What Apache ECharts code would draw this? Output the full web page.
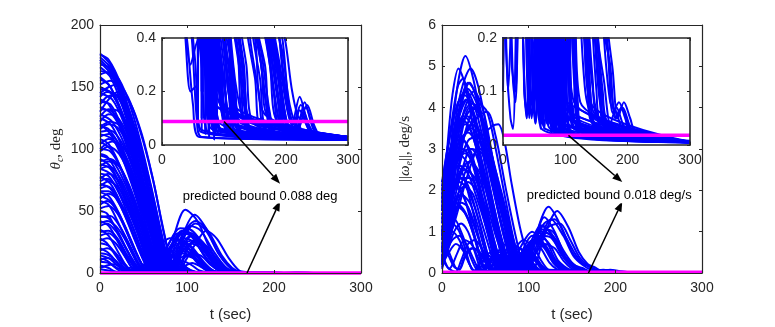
<!DOCTYPE html>
<html>
<head>
<meta charset="utf-8">
<script src="https://cdn.jsdelivr.net/npm/echarts@6/dist/echarts.min.js"></script>
<style>
  html, body { margin: 0; padding: 0; background: #fff; }
  #chart { width: 775px; height: 327px; }
</style>
</head>
<body>
<div id="chart"></div>
<script>
// axis ticks
const tTicks = [0, 100, 200, 300];
const thetaTicks = [0, 50, 100, 150, 200];
const thetaInsetTicks = [0, 0.2, 0.4];
const omegaTicks = [0, 1, 2, 3, 4, 5, 6];
const omegaInsetTicks = [0, 0.1, 0.2];

// predicted bounds
const thetaBound = 0.088;
const omegaBound = 0.018;
const thetaNote = 'predicted bound 0.088 deg';
const omegaNote = 'predicted bound 0.018 deg/s';

// theta_c runs, [t, deg]
const thetaRuns = [
  [[0,177],[12,168],[25,148],[40,112],[55,70],[68,35],[80,10],[90,2],[100,0.8],[115,0.3],[130,0.1],[145,0.04],[300,0.03]],
  [[0,172],[15,160],[30,132],[45,95],[60,55],[72,22],[82,5],[95,1],[108,0.4],[120,0.1],[135,0.03],[300,0.03]],
  [[0,168],[10,166],[22,150],[38,118],[52,80],[65,42],[76,12],[86,0.05],[96,22],[106,30],[118,20],[132,6],[146,1],[160,0.6],[175,0.3],[188,0.1],[200,0.04],[300,0.03]],
  [[0,160],[10,162],[22,156],[36,132],[50,96],[64,52],[76,16],[86,2],[96,0.6],[108,0.2],[120,0.05],[300,0.025]],
  [[0,152],[12,155],[25,146],[40,118],[55,78],[68,38],[78,8],[85,0.1],[95,30],[109,47],[122,36],[136,16],[150,4],[160,0.8],[175,0.5],[190,0.3],[203,0.12],[215,0.05],[226,0.12],[238,0.05],[250,0.025],[300,0.025]],
  [[0,145],[10,150],[20,152],[32,142],[46,115],[60,78],[72,38],[82,8],[90,0.2],[100,20],[112,28],[124,20],[136,8],[148,2],[160,0.5],[180,0.4],[196,0.15],[210,0.04],[300,0.03]],
  [[0,138],[12,136],[25,118],[40,86],[54,50],[66,18],[75,0.05],[86,32],[98,51],[112,42],[126,20],[140,5],[153,0.8],[168,0.6],[184,0.5],[198,0.2],[210,0.08],[222,0.18],[234,0.09],[246,0.04],[300,0.03]],
  [[0,130],[10,140],[20,146],[34,138],[48,112],[62,72],[74,30],[84,4],[94,1],[106,0.5],[118,0.2],[130,0.05],[300,0.03]],
  [[0,128],[14,122],[28,104],[42,76],[56,42],[68,12],[76,0.03],[88,26],[100,36],[114,28],[128,12],[142,3],[155,0.6],[170,0.4],[185,0.3],[198,0.1],[212,0.04],[222,0.13],[236,0.06],[250,0.03],[300,0.03]],
  [[0,118],[10,116],[24,100],[38,72],[52,40],[64,12],[72,0.2],[84,15],[95,22],[108,16],[120,6],[132,1],[145,0.5],[160,0.3],[172,0.1],[185,0.03],[300,0.025]],
  [[0,114],[12,115],[26,104],[40,80],[54,48],[66,18],[76,2],[86,0.8],[98,0.5],[112,0.2],[126,0.05],[300,0.03]],
  [[0,108],[10,104],[22,88],[36,62],[50,32],[62,8],[70,0.05],[82,22],[94,34],[106,30],[120,14],[134,3],[147,0.6],[162,0.5],[178,0.3],[192,0.1],[205,0.05],[216,0.1],[228,0.05],[300,0.03]],
  [[0,100],[12,98],[26,82],[40,56],[54,28],[64,8],[72,1],[82,0.6],[94,0.35],[108,0.1],[120,0.03],[300,0.03]],
  [[0,95],[15,90],[30,70],[45,42],[58,18],[68,2],[74,0.1],[85,18],[97,28],[110,24],[124,10],[138,2],[150,0.6],[165,0.45],[180,0.35],[194,0.15],[208,0.05],[300,0.03]],
  [[0,88],[12,84],[26,66],[40,42],[52,20],[62,4],[70,0.8],[80,0.5],[92,0.3],[105,0.06],[300,0.03]],
  [[0,80],[10,78],[22,64],[36,40],[48,18],[58,3],[64,0.05],[76,14],[90,24],[104,22],[118,10],[130,2],[142,0.6],[158,0.5],[174,0.3],[188,0.08],[300,0.03]],
  [[0,72],[12,68],[25,52],[38,30],[50,10],[58,0.08],[68,8],[80,10],[92,5],[102,1],[112,0.5],[124,0.3],[136,0.1],[150,0.03],[300,0.03]],
  [[0,65],[10,62],[22,48],[34,28],[46,10],[54,0.6],[64,10],[76,16],[88,12],[100,4],[110,0.8],[122,0.45],[134,0.2],[146,0.05],[300,0.03]],
  [[0,58],[10,55],[20,42],[32,24],[44,8],[52,1],[60,0.6],[70,0.45],[80,0.2],[90,0.05],[300,0.03]],
  [[0,50],[8,48],[18,36],[30,20],[40,6],[48,1.2],[58,12],[70,18],[82,14],[94,5],[104,1],[116,0.5],[130,0.3],[142,0.1],[300,0.03]],
  [[0,42],[10,38],[20,26],[30,12],[38,3],[44,2],[54,8],[64,12],[76,8],[86,2],[96,0.6],[108,0.4],[118,0.1],[300,0.03]],
  [[0,35],[10,30],[20,18],[30,6],[38,1.5],[48,6],[58,9],[70,6],[80,1],[90,0.5],[100,0.3],[112,0.08],[300,0.03]],
  [[0,28],[8,24],[18,14],[28,4],[34,2],[44,5],[56,7],[66,4],[76,0.8],[86,0.4],[100,0.15],[300,0.03]],
  [[0,20],[10,16],[20,8],[28,1],[36,0.5],[46,0.3],[60,0.4],[72,0.35],[85,0.15],[300,0.03]],
  [[0,12],[8,10],[18,4],[24,1.5],[34,4],[44,5],[54,2],[62,0.5],[72,0.3],[85,0.2],[100,0.05],[300,0.03]],
  [[0,6],[10,4],[18,1],[26,0.6],[36,0.45],[46,0.2],[55,0.22],[62,0.05],[300,0.02]],
  [[0,3],[10,2],[20,0.8],[30,0.5],[40,0.4],[50,0.15],[60,0.03],[300,0.02]],
  [[0,158],[12,150],[26,126],[40,94],[54,58],[66,26],[76,6],[84,0.3],[94,24],[104,38],[116,34],[130,18],[144,5],[156,1],[170,0.6],[186,0.45],[200,0.2],[212,0.08],[224,0.15],[238,0.07],[252,0.03],[300,0.03]],
  [[0,134],[14,128],[28,110],[42,82],[56,48],[68,16],[76,2],[86,0.8],[100,0.5],[114,0.3],[128,0.1],[300,0.03]],
  [[0,122],[10,128],[22,124],[36,104],[50,72],[64,36],[76,8],[84,0.02],[96,28],[110,40],[122,34],[136,16],[150,4],[162,0.8],[178,0.5],[194,0.35],[206,0.15],[220,0.06],[232,0.14],[244,0.06],[256,0.03],[300,0.03]],
  [[0,110],[10,112],[22,104],[36,84],[50,54],[62,24],[72,4],[80,0.15],[92,18],[104,26],[118,22],[132,8],[145,1.5],[158,0.6],[172,0.4],[186,0.2],[200,0.05],[300,0.03]],
  [[0,90],[12,92],[24,84],[38,62],[52,34],[62,12],[70,0.04],[82,20],[96,34],[110,30],[124,15],[138,3],[150,0.7],[166,0.5],[182,0.35],[196,0.12],[210,0.05],[300,0.03]],
  [[0,76],[10,80],[22,74],[36,54],[50,28],[60,8],[66,0.3],[78,18],[90,30],[102,32],[116,22],[132,8],[146,1.5],[158,0.6],[172,0.4],[188,0.25],[202,0.08],[300,0.03]],
  [[0,45],[12,46],[24,36],[36,20],[46,6],[54,0.8],[66,18],[80,28],[94,26],[108,14],[120,4],[132,0.8],[146,0.5],[160,0.3],[172,0.1],[300,0.03]],
  [[0,100],[14,106],[28,100],[44,78],[58,46],[70,16],[80,0.1],[94,30],[110,42],[124,34],[140,14],[152,4],[162,0.9],[178,0.55],[194,0.4],[206,0.12],[218,0.06],[230,0.16],[242,0.08],[255,0.03],[300,0.03]],
  [[0,60],[10,64],[22,58],[36,40],[48,18],[58,2],[64,0.2],[78,22],[92,36],[106,34],[120,20],[134,6],[146,1],[160,0.6],[176,0.4],[190,0.15],[204,0.04],[300,0.03]],
  [[0,145],[14,140],[28,120],[42,88],[56,50],[68,18],[78,2],[88,0.05],[100,12],[112,26],[122,34],[134,28],[148,12],[160,2],[170,0.8],[184,0.5],[198,0.4],[210,0.2],[222,0.1],[234,0.15],[246,0.07],[258,0.03],[300,0.03]],
  [[0,170],[15,158],[30,128],[45,88],[58,50],[70,18],[80,3],[88,0.6],[98,0.4],[110,0.15],[122,0.04],[300,0.03]],
  [[0,163],[12,160],[26,140],[42,102],[56,62],[68,26],[78,4],[86,0.3],[96,0.05],[300,0.03]],
  [[0,148],[12,146],[26,128],[40,98],[54,60],[66,24],[74,4],[80,0.5],[90,0.4],[102,0.2],[114,0.05],[300,0.03]],
  [[0,142],[8,146],[18,144],[30,128],[44,98],[58,60],[70,24],[80,2],[86,0.1],[96,5],[106,8],[116,5],[126,1],[136,0.45],[150,0.25],[162,0.05],[300,0.03]],
  [[0,125],[12,120],[24,104],[38,76],[50,46],[60,20],[68,3],[74,0.2],[84,10],[96,16],[108,12],[120,4],[130,0.7],[142,0.4],[156,0.2],[170,0.05],[300,0.03]],
  [[0,116],[10,120],[22,116],[36,96],[50,64],[62,32],[72,8],[80,0.5],[90,0.45],[104,0.4],[118,0.2],[130,0.05],[300,0.03]],
  [[0,104],[10,108],[22,102],[36,82],[50,52],[62,22],[70,4],[76,0.1],[86,12],[98,20],[110,16],[122,6],[134,1],[146,0.5],[160,0.35],[174,0.12],[186,0.04],[300,0.03]],
  [[0,96],[8,94],[20,80],[34,56],[46,32],[56,12],[64,1.5],[72,0.5],[84,0.42],[96,0.2],[108,0.05],[300,0.03]],
  [[0,84],[10,86],[22,78],[34,60],[46,36],[56,14],[64,2],[70,0.3],[80,6],[92,10],[104,7],[114,2],[124,0.5],[136,0.3],[148,0.08],[300,0.03]],
  [[0,68],[8,70],[18,64],[30,46],[42,24],[52,8],[60,0.5],[70,6],[82,9],[94,6],[104,1.5],[114,0.5],[126,0.3],[138,0.06],[300,0.03]],
  [[0,55],[8,58],[18,52],[30,36],[40,18],[50,5],[56,1.5],[66,4],[78,6],[88,3],[98,0.7],[108,0.4],[120,0.12],[300,0.03]],
  [[0,38],[8,40],[18,34],[28,22],[38,10],[46,2],[52,0.8],[62,0.5],[72,0.4],[84,0.2],[96,0.05],[300,0.03]],
  [[0,30],[10,32],[20,26],[30,14],[40,4],[46,1.5],[56,3],[66,4],[76,2],[86,0.5],[96,0.3],[108,0.06],[300,0.03]],
  [[0,24],[10,22],[20,14],[30,6],[38,1],[46,0.6],[56,0.45],[68,0.3],[80,0.06],[300,0.03]],
  [[0,16],[8,15],[18,10],[26,4],[34,1],[42,0.8],[52,1.2],[60,0.8],[70,0.3],[80,0.08],[300,0.02]],
  [[0,9],[10,8],[20,4],[30,1.5],[40,0.5],[48,0.4],[56,0.1],[64,0.03],[300,0.02]],
  [[0,132],[14,130],[28,114],[42,86],[56,52],[68,20],[76,4],[82,0.2],[92,14],[104,24],[116,20],[130,8],[142,2],[154,0.6],[168,0.45],[182,0.25],[196,0.08],[210,0.03],[300,0.03]],
  [[0,112],[14,108],[28,92],[42,66],[56,36],[66,12],[74,1],[80,0.08],[92,20],[104,30],[116,26],[130,12],[144,3],[156,0.7],[170,0.45],[186,0.3],[200,0.1],[214,0.03],[300,0.03]],
  [[0,70],[10,74],[22,68],[36,48],[48,24],[58,6],[64,0.1],[76,16],[88,26],[100,24],[114,12],[126,3],[138,0.7],[152,0.45],[166,0.3],[180,0.08],[300,0.03]],
  [[0,176],[10,172],[24,152],[38,120],[52,82],[64,46],[76,16],[86,3],[94,0.8],[104,0.5],[118,0.42],[132,0.2],[146,0.05],[300,0.03]],
  [[0,150],[14,144],[28,124],[42,94],[56,58],[68,24],[76,4],[82,0.2],[92,8],[104,16],[116,14],[128,6],[140,1.2],[152,0.5],[166,0.42],[180,0.2],[194,0.06],[300,0.03]],
  [[0,174],[14,164],[28,140],[42,106],[56,68],[68,32],[78,8],[86,1],[96,0.45],[110,0.2],[124,0.04],[300,0.03]],
  [[0,166],[12,158],[26,134],[40,100],[54,62],[66,28],[76,6],[84,0.5],[94,0.3],[106,0.06],[300,0.03]],
  [[0,156],[10,152],[24,132],[38,100],[52,64],[64,30],[74,6],[80,0.4],[90,0.35],[102,0.1],[300,0.03]],
  [[0,140],[10,136],[24,116],[38,86],[52,52],[64,22],[72,4],[78,0.6],[88,0.42],[100,0.15],[112,0.04],[300,0.03]],
  [[0,136],[8,142],[18,144],[30,134],[44,108],[58,72],[70,34],[80,6],[88,0.5],[98,0.42],[112,0.25],[126,0.05],[300,0.03]],
  [[0,126],[10,132],[22,130],[36,112],[50,80],[62,46],[72,16],[80,2],[88,0.5],[100,0.42],[114,0.15],[300,0.03]],
  [[0,120],[12,112],[26,92],[40,64],[52,36],[62,12],[70,1],[78,0.5],[88,0.4],[100,0.1],[300,0.03]],
  [[0,106],[12,100],[24,84],[38,58],[50,32],[60,10],[68,1],[74,0.6],[84,0.45],[96,0.2],[108,0.04],[300,0.03]],
  [[0,98],[10,102],[22,96],[36,76],[48,50],[60,22],[70,4],[76,0.2],[86,8],[98,14],[110,11],[122,4],[132,0.8],[144,0.45],[158,0.25],[172,0.05],[300,0.03]],
  [[0,92],[12,86],[24,70],[36,48],[48,26],[58,8],[64,0.8],[72,0.5],[82,0.42],[94,0.15],[300,0.03]],
  [[0,86],[10,90],[22,86],[34,70],[46,46],[56,22],[64,5],[70,0.3],[80,10],[92,18],[104,16],[116,7],[128,1.5],[140,0.5],[154,0.4],[168,0.15],[180,0.04],[300,0.03]],
  [[0,78],[12,72],[24,56],[36,36],[46,18],[54,5],[60,0.6],[70,0.45],[82,0.3],[94,0.06],[300,0.03]],
  [[0,74],[8,76],[18,70],[30,54],[42,34],[52,14],[60,2],[66,0.2],[76,12],[88,20],[100,18],[112,8],[124,1.5],[136,0.5],[150,0.4],[164,0.12],[300,0.03]],
  [[0,66],[10,66],[22,56],[34,38],[46,18],[54,5],[60,0.5],[70,5],[80,7],[90,4],[100,1],[110,0.5],[122,0.35],[134,0.08],[300,0.03]],
  [[0,62],[12,58],[24,44],[36,26],[46,10],[54,1.5],[60,0.5],[70,0.42],[82,0.2],[94,0.04],[300,0.03]],
  [[0,52],[10,54],[20,48],[30,34],[40,18],[50,4],[56,0.5],[66,10],[78,15],[90,12],[100,4],[110,1],[120,0.5],[132,0.3],[144,0.06],[300,0.03]],
  [[0,46],[10,44],[20,34],[30,20],[40,8],[48,1.5],[54,0.7],[64,0.5],[74,0.4],[86,0.15],[300,0.03]],
  [[0,40],[8,42],[18,38],[28,28],[38,14],[46,4],[52,1],[60,5],[70,8],[80,6],[90,2],[100,0.6],[110,0.4],[122,0.1],[300,0.03]],
  [[0,33],[10,34],[20,28],[30,16],[40,5],[46,1.2],[54,0.6],[64,0.45],[76,0.2],[88,0.04],[300,0.03]],
  [[0,26],[8,28],[18,24],[28,14],[36,5],[42,1.5],[50,4],[60,6],[70,4],[80,1],[90,0.45],[102,0.2],[114,0.04],[300,0.03]],
  [[0,18],[8,20],[18,16],[26,8],[34,2],[40,1],[48,2],[56,3],[64,1.5],[72,0.5],[82,0.35],[94,0.08],[300,0.03]],
  [[0,14],[10,12],[20,6],[28,2],[36,0.8],[44,0.6],[54,0.5],[64,0.3],[74,0.05],[300,0.02]],
  [[0,10],[6,12],[14,11],[22,7],[30,3],[36,1.2],[44,2],[52,2.5],[60,1.2],[68,0.45],[78,0.2],[90,0.04],[300,0.02]],
  [[0,4],[8,6],[16,7],[24,5],[32,2],[38,0.8],[46,0.5],[54,0.3],[62,0.06],[300,0.02]],
  [[0,118],[12,122],[24,118],[38,98],[52,66],[64,34],[74,10],[82,1],[88,0.1],[98,16],[110,26],[122,22],[136,10],[148,2],[160,0.6],[174,0.45],[188,0.3],[200,0.1],[212,0.04],[300,0.03]],
  [[0,84],[12,80],[24,66],[36,46],[48,24],[58,6],[64,0.4],[76,20],[90,32],[104,30],[118,16],[132,4],[144,0.9],[158,0.5],[172,0.35],[186,0.12],[200,0.04],[300,0.03]]
];

// ||omega_e|| runs, [t, deg/s]
const omegaRuns = [
  [[0,1.5],[6,3],[12,4.3],[19,4.95],[26,4.6],[36,3.5],[48,2],[60,0.8],[70,0.15],[78,0.05],[90,0.1],[100,0.06],[115,0.02],[300,0.006]],
  [[0,0.8],[8,2.5],[17,4.4],[27,5.25],[36,4.7],[48,3.4],[60,2],[72,0.9],[82,0.3],[90,0.12],[98,0.04],[110,0.08],[122,0.03],[300,0.006]],
  [[0,1.8],[10,3],[22,4.4],[33,4.95],[42,4.5],[54,3.2],[66,1.8],[78,0.7],[88,0.2],[96,0.06],[108,0.02],[300,0.005]],
  [[0,0.5],[10,2.2],[20,3.8],[30,4.45],[40,4.1],[52,3],[64,1.6],[76,0.5],[84,0.02],[94,0.5],[104,0.8],[114,0.6],[124,0.25],[132,0.1],[142,0.05],[155,0.02],[300,0.006]],
  [[0,1],[12,2.6],[25,3.9],[37,4.4],[48,3.9],[60,2.6],[72,1.3],[82,0.4],[90,0.03],[100,0.6],[110,1.0],[120,0.8],[130,0.35],[140,0.15],[150,0.06],[160,0.03],[300,0.006]],
  [[0,0.6],[14,2],[28,3.5],[42,4.1],[52,3.9],[62,3],[74,1.7],[86,0.5],[94,0.02],[106,0.7],[118,1.35],[130,1],[142,0.4],[152,0.2],[162,0.12],[172,0.04],[182,0.07],[192,0.04],[204,0.01],[300,0.006]],
  [[0,1.9],[12,2.6],[28,3.4],[42,3.8],[52,3.9],[62,3.3],[74,2],[86,0.8],[96,0.02],[108,0.9],[123,1.6],[138,1.1],[150,0.5],[160,0.25],[168,0.18],[176,0.06],[186,0.08],[196,0.05],[206,0.02],[300,0.006]],
  [[0,0.4],[14,1.2],[30,2.4],[46,3.3],[58,3.55],[65,3.6],[72,3.2],[80,2.2],[90,1.1],[100,0.3],[104,0.02],[118,0.9],[133,1.5],[146,1.1],[158,0.5],[168,0.22],[176,0.14],[184,0.05],[194,0.08],[204,0.05],[215,0.02],[300,0.008]],
  [[0,0.3],[10,1.6],[18,2.8],[25,3.2],[34,2.9],[46,1.9],[58,0.8],[66,0.2],[72,0.05],[80,0.15],[88,0.08],[98,0.02],[300,0.005]],
  [[0,2],[8,2.8],[18,3.5],[28,3.6],[40,3],[52,1.9],[64,0.8],[72,0.2],[78,0.02],[88,0.4],[98,0.55],[108,0.35],[116,0.12],[124,0.04],[300,0.006]],
  [[0,1.4],[10,2.2],[22,2.9],[34,3],[46,2.4],[58,1.4],[70,0.5],[78,0.03],[90,0.6],[104,1.0],[116,0.75],[128,0.3],[138,0.12],[146,0.05],[300,0.006]],
  [[0,0.2],[8,1.3],[16,2.2],[26,2.6],[36,2.3],[48,1.4],[58,0.5],[64,0.04],[72,0.3],[80,0.4],[90,0.2],[98,0.06],[300,0.005]],
  [[0,1.6],[10,2],[20,2.2],[30,2],[42,1.3],[52,0.5],[58,0.05],[66,0.3],[74,0.4],[82,0.25],[90,0.08],[300,0.005]],
  [[0,0.9],[6,1.6],[14,2.1],[24,1.9],[34,1.2],[44,0.4],[50,0.06],[58,0.35],[66,0.5],[76,0.3],[84,0.1],[92,0.03],[300,0.005]],
  [[0,0.3],[6,0.8],[12,1.2],[20,1],[28,0.5],[34,0.1],[38,0.06],[44,0.25],[52,0.35],[60,0.2],[68,0.06],[300,0.005]],
  [[0,0.35],[6,0.15],[12,0.05],[16,0.03],[22,0.3],[30,0.7],[38,0.8],[48,0.5],[56,0.2],[62,0.05],[70,0.12],[78,0.05],[300,0.005]],
  [[0,0.7],[8,0.4],[14,0.15],[20,0.1],[26,0.4],[36,0.6],[46,0.4],[54,0.15],[62,0.03],[300,0.005]],
  [[0,1.1],[10,1.8],[20,2.4],[32,2.7],[44,2.4],[56,1.6],[68,0.7],[78,0.1],[84,0.02],[94,0.5],[106,0.8],[118,0.6],[128,0.25],[136,0.1],[144,0.04],[300,0.006]],
  [[0,0.5],[12,2],[22,3.3],[32,4],[42,3.9],[54,3.1],[66,2],[78,1],[88,0.3],[94,0.03],[104,0.5],[116,1.15],[128,0.9],[140,0.4],[150,0.15],[158,0.06],[168,0.03],[300,0.006]],
  [[0,1.7],[10,2.8],[22,3.7],[34,4.1],[46,3.8],[58,2.8],[70,1.6],[82,0.6],[92,0.1],[98,0.02],[110,0.6],[126,1.3],[140,0.9],[152,0.4],[162,0.2],[172,0.08],[182,0.06],[194,0.03],[300,0.006]],
  [[0,0.1],[10,0.9],[20,1.8],[30,2.2],[40,2],[50,1.4],[60,0.7],[68,0.2],[74,0.04],[84,0.3],[94,0.4],[104,0.25],[114,0.08],[300,0.005]],
  [[0,2.2],[8,2.6],[18,2.9],[28,2.7],[40,2],[52,1],[62,0.3],[68,0.05],[78,0.25],[88,0.35],[98,0.2],[108,0.06],[300,0.005]],
  [[0,1.3],[6,2.1],[14,2.6],[22,2.5],[32,1.8],[42,0.9],[50,0.25],[56,0.08],[64,0.5],[74,0.7],[84,0.45],[94,0.15],[104,0.05],[300,0.005]],
  [[0,0.6],[8,1.2],[18,1.6],[28,1.4],[38,0.8],[46,0.2],[50,0.1],[58,0.3],[68,0.45],[78,0.3],[88,0.1],[300,0.005]],
  [[0,1.9],[10,3.4],[20,4.2],[28,4.4],[38,4],[50,3],[62,1.8],[74,0.8],[84,0.2],[90,0.03],[102,0.7],[114,1.15],[126,0.95],[138,0.45],[148,0.2],[156,0.1],[166,0.04],[300,0.006]],
  [[0,0.9],[10,1.4],[20,1.6],[30,1.3],[40,0.7],[48,0.15],[52,0.04],[60,0.2],[70,0.3],[80,0.15],[88,0.04],[300,0.005]],
  [[0,0.2],[8,0.5],[16,0.7],[24,0.55],[32,0.2],[38,0.05],[44,0.15],[52,0.2],[60,0.1],[68,0.03],[300,0.005]],
  [[0,1.5],[10,2.5],[20,3.2],[30,3.4],[40,3.1],[52,2.2],[64,1.1],[74,0.35],[80,0.03],[92,0.5],[104,0.9],[116,0.75],[128,0.35],[138,0.15],[146,0.06],[300,0.006]],
  [[0,0.8],[12,2.4],[24,3.6],[36,4],[46,3.7],[58,2.7],[70,1.5],[80,0.6],[88,0.1],[92,0.02],[104,0.6],[118,1.2],[130,1.3],[142,0.9],[154,0.45],[164,0.2],[172,0.15],[180,0.05],[190,0.07],[200,0.04],[210,0.02],[300,0.006]],
  [[0,2.1],[8,3.2],[18,4.1],[26,4.3],[36,3.9],[48,2.8],[60,1.6],[72,0.6],[80,0.15],[86,0.05],[94,0.3],[102,0.4],[112,0.25],[120,0.08],[128,0.03],[300,0.006]],
  [[0,1.2],[10,2.8],[20,4],[30,4.6],[40,4.3],[50,3.4],[62,2.1],[74,1],[84,0.3],[90,0.05],[100,0.5],[112,0.9],[124,0.7],[134,0.3],[144,0.12],[152,0.05],[300,0.006]],
  [[0,0.7],[10,1.9],[22,3.1],[34,3.6],[46,3.3],[58,2.4],[70,1.3],[80,0.4],[86,0.05],[96,0.4],[108,0.75],[120,0.6],[130,0.25],[140,0.08],[300,0.006]],
  [[0,1.8],[10,2.4],[20,2.6],[30,2.4],[42,1.7],[54,0.9],[64,0.3],[70,0.04],[78,0.35],[88,0.5],[98,0.3],[106,0.1],[114,0.03],[300,0.005]],
  [[0,0.4],[8,1],[16,1.8],[26,2.1],[36,1.9],[46,1.2],[56,0.5],[62,0.1],[66,0.03],[74,0.25],[82,0.35],[92,0.2],[100,0.06],[300,0.005]],
  [[0,1],[8,1.5],[16,1.7],[26,1.5],[36,1],[44,0.4],[50,0.08],[56,0.3],[64,0.45],[72,0.3],[80,0.1],[88,0.03],[300,0.005]],
  [[0,0.55],[6,0.9],[12,1],[20,0.8],[28,0.4],[34,0.12],[38,0.05],[44,0.3],[52,0.45],[60,0.3],[68,0.1],[76,0.03],[300,0.005]],
  [[0,1.6],[10,2.9],[20,3.8],[30,4.2],[40,4],[52,3.3],[64,2.3],[76,1.2],[86,0.5],[94,0.1],[98,0.04],[108,0.5],[122,1.1],[136,1.2],[148,0.8],[158,0.4],[166,0.22],[174,0.1],[182,0.05],[192,0.07],[202,0.04],[212,0.015],[300,0.006]],
  [[0,0.3],[10,1.1],[20,2],[32,2.7],[44,3],[56,2.8],[68,2],[80,1],[90,0.3],[96,0.04],[106,0.5],[118,1],[130,0.85],[142,0.4],[152,0.18],[160,0.08],[170,0.03],[300,0.006]],
  [[0,1.4],[8,1.9],[18,2.3],[28,2.2],[38,1.6],[48,0.8],[56,0.2],[60,0.03],[68,0.4],[78,0.6],[88,0.4],[96,0.15],[104,0.04],[300,0.005]],
  [[0,2.2],[10,3.5],[18,4.5],[24,4.7],[32,4.2],[44,2.9],[56,1.6],[68,0.6],[76,0.15],[82,0.03],[90,0.3],[98,0.42],[108,0.28],[116,0.1],[124,0.03],[300,0.006]],
  [[0,0.15],[6,0.5],[14,1],[22,1.2],[30,1],[38,0.5],[44,0.12],[48,0.06],[54,0.3],[62,0.42],[70,0.3],[78,0.1],[86,0.03],[300,0.005]],
  [[0,0.9],[10,2.1],[22,3.2],[34,3.5],[46,3.1],[58,2.1],[70,1],[80,0.3],[86,0.03],[96,0.45],[108,0.8],[120,0.65],[130,0.28],[140,0.1],[148,0.04],[300,0.006]],
  [[0,0.45],[4,0.25],[8,0.1],[12,0.2],[18,0.5],[26,0.8],[34,0.7],[42,0.35],[48,0.1],[52,0.04],[58,0.2],[66,0.3],[74,0.18],[82,0.05],[300,0.005]],
  [[0,1.2],[8,2],[16,2.7],[24,3],[34,2.7],[44,1.9],[54,1],[62,0.35],[68,0.05],[76,0.4],[86,0.65],[96,0.45],[104,0.18],[112,0.05],[300,0.005]],
  [[0,0.25],[8,1.8],[16,3.3],[24,4.3],[32,4.6],[40,4.2],[52,3.2],[64,2],[76,0.9],[86,0.25],[92,0.03],[102,0.5],[114,1],[126,0.9],[138,0.45],[148,0.2],[156,0.1],[166,0.03],[300,0.006]],
  [[0,1.7],[8,2.6],[16,3.4],[24,3.8],[34,3.6],[46,2.7],[58,1.6],[70,0.7],[78,0.2],[84,0.04],[92,0.3],[100,0.45],[110,0.3],[118,0.1],[126,0.03],[300,0.006]],
  [[0,0.9],[10,2.6],[20,3.9],[28,4.2],[38,3.8],[50,2.6],[62,1.4],[72,0.5],[80,0.08],[88,0.35],[96,0.5],[106,0.35],[114,0.12],[122,0.04],[300,0.006]],
  [[0,2],[8,2.9],[16,3.3],[26,3.2],[38,2.5],[50,1.5],[60,0.7],[68,0.15],[72,0.04],[80,0.4],[90,0.6],[100,0.4],[108,0.15],[116,0.04],[300,0.005]],
  [[0,1.3],[10,1.9],[20,2.3],[32,2.3],[44,1.8],[56,1],[66,0.35],[72,0.05],[80,0.3],[90,0.45],[100,0.3],[108,0.1],[116,0.03],[300,0.005]],
  [[0,0.6],[8,1.4],[16,2.1],[26,2.5],[38,2.3],[50,1.6],[60,0.8],[68,0.2],[72,0.04],[82,0.5],[94,0.8],[106,0.6],[116,0.25],[124,0.08],[300,0.005]],
  [[0,0.35],[6,0.9],[14,1.6],[22,1.9],[32,1.7],[42,1.1],[50,0.5],[56,0.1],[60,0.04],[68,0.3],[76,0.42],[86,0.28],[94,0.08],[300,0.005]],
  [[0,1.1],[6,1.3],[14,1.3],[22,1],[30,0.55],[38,0.15],[42,0.05],[48,0.3],[56,0.5],[64,0.35],[72,0.12],[80,0.03],[300,0.005]],
  [[0,0.75],[6,0.6],[12,0.3],[16,0.12],[20,0.08],[26,0.35],[34,0.6],[42,0.55],[50,0.3],[56,0.08],[62,0.04],[70,0.15],[78,0.08],[86,0.02],[300,0.005]],
  [[0,1.5],[8,2.4],[18,3.3],[28,3.8],[40,3.6],[52,2.8],[64,1.8],[76,0.9],[86,0.3],[92,0.04],[102,0.45],[114,0.9],[126,0.85],[138,0.45],[148,0.2],[156,0.08],[164,0.03],[300,0.006]],
  [[0,0.5],[10,1.4],[22,2.4],[34,3],[46,2.9],[58,2.3],[70,1.4],[82,0.6],[92,0.12],[96,0.03],[106,0.4],[118,0.7],[130,0.6],[140,0.3],[150,0.1],[158,0.04],[300,0.006]],
  [[0,2.1],[8,2.3],[16,2.2],[26,1.8],[36,1.2],[46,0.6],[54,0.2],[58,0.05],[66,0.35],[76,0.5],[86,0.35],[94,0.12],[102,0.03],[300,0.005]],
  [[0,0.2],[6,0.7],[14,1.4],[22,1.7],[30,1.6],[40,1],[48,0.45],[54,0.1],[58,0.05],[66,0.35],[74,0.5],[84,0.35],[92,0.12],[100,0.03],[300,0.005]],
  [[0,1.8],[8,2.8],[16,3.5],[24,3.7],[34,3.4],[46,2.5],[58,1.5],[70,0.7],[78,0.2],[84,0.03],[94,0.45],[106,0.8],[118,0.7],[128,0.3],[136,0.12],[144,0.04],[300,0.006]],
  [[0,1],[8,1.9],[16,2.6],[26,2.9],[38,2.6],[50,1.8],[62,0.9],[72,0.3],[78,0.05],[88,0.35],[98,0.55],[108,0.4],[116,0.15],[124,0.04],[300,0.005]],
  [[0,0.4],[10,1.5],[20,2.6],[30,3.2],[40,3.3],[52,2.8],[64,1.9],[76,1],[86,0.35],[92,0.04],[102,0.55],[116,1.05],[128,1],[140,0.55],[150,0.25],[160,0.1],[170,0.04],[300,0.006]],
  [[0,0.25],[6,0.55],[12,0.8],[20,0.9],[28,0.7],[36,0.35],[42,0.1],[46,0.05],[52,0.25],[60,0.4],[68,0.3],[76,0.1],[84,0.03],[300,0.005]]
];

const BLUE = '#0000ff';
const MAGENTA = '#ff00ff';
const AXIS = '#262626';
const SANS = '"Liberation Sans", Arial, sans-serif';
const SERIF = '"Liberation Serif", "DejaVu Serif", serif';

const grids = [
  { left: 100, top: 25, width: 261, height: 253 },
  { left: 162, top: 38, width: 186, height: 107, z: 10, show: true, backgroundColor: '#fff', borderWidth: 0 },
  { left: 442, top: 25, width: 260, height: 253 },
  { left: 503, top: 38, width: 187, height: 107, z: 10, show: true, backgroundColor: '#fff', borderWidth: 0 }
];

const xAxis = [];
const yAxis = [];

function addAxes(g, yTicks, z, xName, yName, yNameGap, boxWidth) {
  const lineStyle = { color: AXIS, width: boxWidth };
  const tick = { show: true, inside: true, length: 3, lineStyle: { color: AXIS } };
  const label = { color: AXIS, fontSize: 14, fontFamily: SANS };
  const xr = { type: 'value', gridIndex: g, min: tTicks[0], max: tTicks[tTicks.length - 1], interval: tTicks[1] - tTicks[0], z: z,
    axisLine: { show: true, onZero: false, lineStyle }, axisTick: tick, splitLine: { show: false } };
  const yr = { type: 'value', gridIndex: g, min: yTicks[0], max: yTicks[yTicks.length - 1], interval: yTicks[1] - yTicks[0], z: z,
    axisLine: { show: true, onZero: false, lineStyle }, axisTick: tick, splitLine: { show: false } };
  xAxis.push(Object.assign({}, xr, { position: 'bottom', axisLabel: Object.assign({ margin: 8 }, label),
    name: xName, nameLocation: 'middle', nameGap: 34, nameTextStyle: { color: AXIS, fontSize: 15, fontFamily: SANS } }));
  xAxis.push(Object.assign({}, xr, { position: 'top', axisLabel: { show: false } }));
  yAxis.push(Object.assign({}, yr, { position: 'left', axisLabel: Object.assign({ margin: 6 }, label),
    name: yName, nameLocation: 'middle', nameGap: yNameGap,
    nameTextStyle: {
      color: AXIS, fontSize: 15, fontFamily: SERIF,
      rich: {
        i: { fontSize: 15, fontStyle: 'italic', fontFamily: SERIF, color: AXIS },
        s: { fontSize: 10, fontStyle: 'italic', fontFamily: SERIF, color: AXIS, padding: [7, 0, 0, 0] },
        r: { fontSize: 15, fontFamily: SERIF, color: AXIS }
      }
    } }));
  yAxis.push(Object.assign({}, yr, { position: 'right', axisLabel: { show: false } }));
}

addAxes(0, thetaTicks, 5, 't (sec)', '{i|θ}{s|c}{r|, deg}', 35, 1.2);
addAxes(1, thetaInsetTicks, 13, '', '', 0, 1.6);
addAxes(2, omegaTicks, 5, 't (sec)', '{r|||}{i|ω}{s|e}{r|||, deg/s}', 28, 1.2);
addAxes(3, omegaInsetTicks, 13, '', '', 0, 1.6);

const series = [];
function addRuns(runs, g, z) {
  runs.forEach(function (r) {
    series.push({
      type: 'line', xAxisIndex: 2 * g, yAxisIndex: 2 * g, data: r,
      smooth: 0.3, symbol: 'none', silent: true, clip: true, z: z,
      lineStyle: { color: BLUE, width: 2 }
    });
  });
}
function addBound(b, g, z) {
  series.push({
    type: 'line', xAxisIndex: 2 * g, yAxisIndex: 2 * g,
    data: [[tTicks[0], b], [tTicks[tTicks.length - 1], b]],
    symbol: 'none', silent: true, clip: false, z: z,
    lineStyle: { color: MAGENTA, width: 3.5 }
  });
}
addRuns(thetaRuns, 0, 2);
addBound(thetaBound, 0, 3);
addRuns(thetaRuns, 1, 11);
addBound(thetaBound, 1, 12);
addRuns(omegaRuns, 2, 2);
addBound(omegaBound, 2, 3);
addRuns(omegaRuns, 3, 11);
addBound(omegaBound, 3, 12);

const chart = echarts.init(document.getElementById('chart'), null, { renderer: 'canvas' });
chart.setOption({
  animation: false,
  backgroundColor: '#fff',
  grid: grids,
  xAxis: xAxis,
  yAxis: yAxis,
  series: series
});

function px(g, pt) {
  return chart.convertToPixel({ xAxisIndex: 2 * g, yAxisIndex: 2 * g }, pt);
}
function arrow(a, b) {
  const dx = b[0] - a[0], dy = b[1] - a[1];
  const len = Math.sqrt(dx * dx + dy * dy);
  const ux = dx / len, uy = dy / len;
  const head = 10, half = 3.8;
  const bx = b[0] - ux * head, by = b[1] - uy * head;
  return [
    { type: 'line', z: 100, silent: true, shape: { x1: a[0], y1: a[1], x2: bx, y2: by }, style: { stroke: '#000', lineWidth: 1.5 } },
    { type: 'polygon', z: 100, silent: true,
      shape: { points: [[b[0], b[1]], [bx - uy * half, by + ux * half], [bx + uy * half, by - ux * half]] },
      style: { fill: '#000' } }
  ];
}
function note(text, p) {
  return { type: 'text', z: 100, silent: true, x: p[0], y: p[1],
    style: { text: text, fill: '#000', font: '13px ' + SANS, align: 'center', verticalAlign: 'middle',
      backgroundColor: '#fff', padding: [1, 3] } };
}

const graphic = []
  .concat(arrow(px(1, [100, thetaBound]), px(0, [207, 72])))
  .concat(arrow(px(0, [169, 0]), px(0, [207, 58])))
  .concat([note(thetaNote, px(0, [184, 62]))])
  .concat(arrow(px(3, [105, omegaBound]), px(2, [208, 2.2])))
  .concat(arrow(px(2, [169, 0]), px(2, [208, 1.73])))
  .concat([note(omegaNote, px(2, [193, 1.87]))]);

chart.setOption({ graphic: graphic });
</script>
</body>
</html>
